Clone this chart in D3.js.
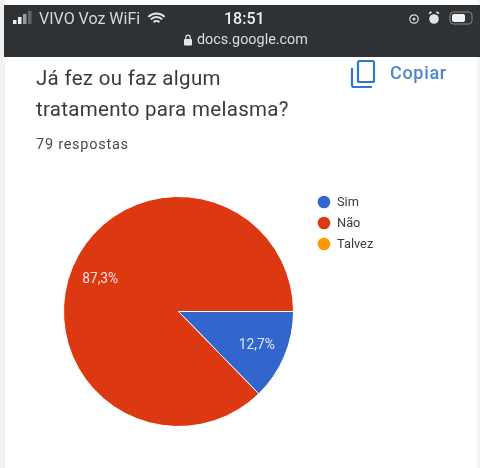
<!DOCTYPE html>
<html>
<head>
<meta charset="utf-8">
<script src="https://cdn.jsdelivr.net/npm/d3@7"></script>
<style>
  html, body { margin: 0; padding: 0; background: #fff; }
  text { font-family: Roboto, "Liberation Sans", sans-serif; }
  svg { filter: blur(0.35px); }
</style>
</head>
<body>
<div id="chart"></div>
<script>
const categories = ["Sim", "Não", "Talvez"];
const values = [12.7, 87.3, 0];
const colors = ["#3366cc", "#dc3912", "#ff9900"];
const sliceLabels = ["12,7%", "87,3%", ""];
const titleLines = ["Já fez ou faz algum", "tratamento para melasma?"];
const signalBars = [4, 7, 10, 13];

const width = 480, height = 468;
const cx = 178.5, cy = 311.5, radius = 115;

const svg = d3.select("#chart").append("svg")
  .attr("width", width)
  .attr("height", height)
  .style("display", "block");

// page card edges
svg.append("rect").attr("width", width).attr("height", height).attr("fill", "#fff");
svg.append("rect").attr("x", 0).attr("y", 0).attr("width", 5).attr("height", height).attr("fill", "#f1f1f1");
svg.append("rect").attr("x", 477).attr("y", 0).attr("width", 3).attr("height", height).attr("fill", "#f4f4f4");

// phone status bar
svg.append("rect").attr("x", 4).attr("y", 5).attr("width", 476).attr("height", 52).attr("fill", "#2f3234");

const bar = svg.append("g").attr("fill", "#e6e6e6");
bar.selectAll("rect").data(signalBars).enter().append("rect")
  .attr("x", (d, i) => 13 + i * 5)
  .attr("y", d => 24 - d)
  .attr("width", 3.5)
  .attr("height", d => d)
  .attr("fill", (d, i) => i < 2 ? "#eeeeee" : (i == 2 ? "#9a9a9a" : "#666"));

bar.append("text").attr("x", 39).attr("y", 24).attr("font-size", 16).attr("fill", "#d8d8d8").text("VIVO Voz WiFi");
bar.append("text").attr("x", 224).attr("y", 24).attr("font-size", 16).attr("font-weight", 500).attr("fill", "#eeeeee").text("18:51");
bar.append("text").attr("x", 197).attr("y", 44).attr("font-size", 14.4).attr("fill", "#dcdcdc").text("docs.google.com");

// wifi icon
const wifi = svg.append("g").attr("transform", "translate(156.5,25)").attr("fill", "none").attr("stroke", "#e6e6e6").attr("stroke-width", 2);
[4, 8, 11.5].forEach(r => wifi.append("path").attr("d", d3.arc()({
  innerRadius: r, outerRadius: r, startAngle: -Math.PI / 4, endAngle: Math.PI / 4
})));

// padlock
svg.append("rect").attr("x", 184).attr("y", 39).attr("width", 8).attr("height", 6.5).attr("rx", 1).attr("fill", "#e6e6e6");
svg.append("path").attr("d", "M185.8 39 v-1.6 a2.2 2.2 0 0 1 4.4 0 v1.6").attr("fill", "none").attr("stroke", "#e6e6e6").attr("stroke-width", 1.2);

// right status icons
svg.append("circle").attr("cx", 414).attr("cy", 19).attr("r", 4.2).attr("fill", "none").attr("stroke", "#ddd").attr("stroke-width", 1.2);
svg.append("circle").attr("cx", 414).attr("cy", 19).attr("r", 1.5).attr("fill", "#ddd");
svg.append("circle").attr("cx", 434).attr("cy", 19).attr("r", 4.8).attr("fill", "#e2e2e2");
svg.append("path").attr("d", "M429 13.5 l2.5 -1.5 M439 13.5 l-2.5 -1.5").attr("stroke", "#e2e2e2").attr("stroke-width", 1.6);
svg.append("rect").attr("x", 450).attr("y", 12).attr("width", 22).attr("height", 12).attr("rx", 3.5).attr("fill", "none").attr("stroke", "#8a8a8a").attr("stroke-width", 1);
svg.append("rect").attr("x", 452).attr("y", 14).attr("width", 13).attr("height", 8).attr("rx", 2).attr("fill", "#f2f2f2");

// question heading
svg.append("g").selectAll("text").data(titleLines).enter().append("text")
  .attr("x", 36)
  .attr("y", (d, i) => 84.5 + i * 31)
  .attr("font-size", 20.5)
  .attr("letter-spacing", 0.3)
  .attr("fill", "#3a3a3a")
  .text(d => d);

svg.append("text").attr("x", 36).attr("y", 149).attr("font-size", 14.5).attr("letter-spacing", 0.75).attr("fill", "#4a4a4a").text("79 respostas");

// copy button
svg.append("path")
  .attr("d", "M352 68 V85 a2 2 0 0 0 2 2 H372")
  .attr("fill", "none").attr("stroke", "#2f77c9").attr("stroke-width", 2.2);
svg.append("rect").attr("x", 358).attr("y", 61).attr("width", 16).attr("height", 21).attr("rx", 1.5)
  .attr("fill", "none").attr("stroke", "#2f77c9").attr("stroke-width", 2.2);
svg.append("text").attr("x", 390).attr("y", 79).attr("font-size", 18).attr("font-weight", 500).attr("letter-spacing", 0.7).attr("fill", "#4a86cc").text("Copiar");

// pie starts at 3 o'clock and runs clockwise
const pie = d3.pie().sort(null).startAngle(Math.PI / 2).endAngle(Math.PI * 2.5);
const arc = d3.arc().innerRadius(0).outerRadius(radius);
const labelArc = d3.arc().innerRadius(85).outerRadius(85);
const slices = pie(values);

const chart = svg.append("g").attr("transform", `translate(${cx},${cy})`);

chart.selectAll("path").data(slices).enter().append("path")
  .attr("d", arc)
  .attr("fill", (d, i) => colors[i])
  .attr("stroke", "#fff")
  .attr("stroke-width", (d, i) => values[i] > 0 ? 1 : 0);

chart.selectAll("text").data(slices).enter().append("text")
  .attr("transform", d => `translate(${labelArc.centroid(d)})`)
  .attr("text-anchor", "middle")
  .attr("dy", "0.35em")
  .attr("font-size", 13.8)
  .attr("fill", "#fff")
  .attr("fill-opacity", 0.85)
  .text((d, i) => sliceLabels[i]);

// legend
const legendY = d3.scalePoint().domain(categories).range([202, 244]);
const legend = svg.append("g").selectAll("g").data(categories).enter().append("g")
  .attr("transform", d => `translate(324,${legendY(d)})`);
legend.append("circle").attr("r", 6.3).attr("fill", (d, i) => colors[i]);
legend.append("text")
  .attr("x", 13)
  .attr("dy", "0.35em")
  .attr("font-size", 12.8)
  .attr("fill", "#3c3c3c")
  .text(d => d);
</script>
</body>
</html>
